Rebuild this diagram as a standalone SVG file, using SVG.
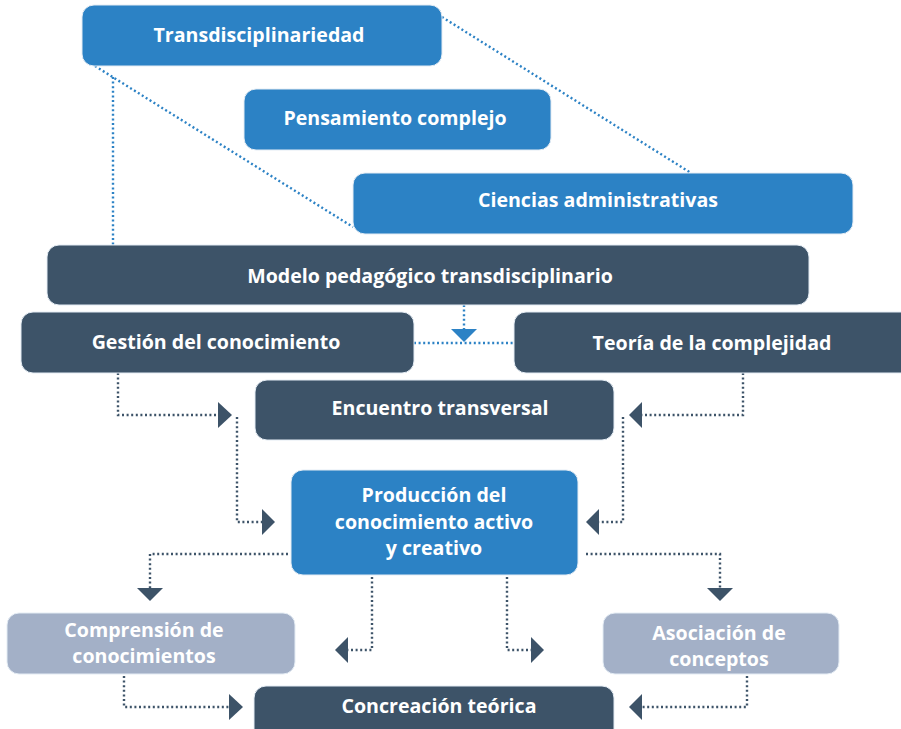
<svg xmlns="http://www.w3.org/2000/svg" width="901" height="729" viewBox="0 0 901 729">
<style>
.blue{fill:#2c82c5}
.dark{fill:#3d5368}
.light{fill:#a3b0c7}
.box{stroke:#e4ecf4;stroke-width:1}
text{font-family:"Open Sans","Noto Sans",sans-serif;font-weight:bold;font-size:19.6px;fill:#ffffff;text-anchor:middle}
.dl{fill:none;stroke:#3d5368;stroke-width:2.4;stroke-dasharray:2 2.6}
.bl{fill:none;stroke:#2c82c5;stroke-width:2.4;stroke-dasharray:2 2.6}
.ah{fill:#3d5368}
.bh{fill:#2c82c5}
</style>
<rect width="901" height="729" fill="#ffffff"/>
<g id="connectors">
<path class="bl" d="M95 66 L353 227"/>
<path class="bl" d="M113 77 V245"/>
<path class="bl" d="M442 17 L691 173"/>
<path class="bl" d="M414 343 H514"/>
<path class="bl" d="M464 305 V330"/>
<polygon class="bh" points="451,329 477,329 464,342"/>
<path class="dl" d="M118 373 V415 H218"/>
<polygon class="ah" points="218,402 232,415 218,428"/>
<path class="dl" d="M237 417 V522 H262"/>
<polygon class="ah" points="262,509 275,522 262,535"/>
<path class="dl" d="M743 373 V415 H642"/>
<polygon class="ah" points="642,402 629,415 642,428"/>
<path class="dl" d="M623 417 V522 H599"/>
<polygon class="ah" points="599,509 586,522 599,535"/>
<path class="dl" d="M288 554 H150 V588"/>
<polygon class="ah" points="137,588 163,588 150,601"/>
<path class="dl" d="M586 554 H720 V588"/>
<polygon class="ah" points="707,588 733,588 720,601"/>
<path class="dl" d="M372 577 V650 H348"/>
<polygon class="ah" points="348,637 335,650 348,663"/>
<path class="dl" d="M507 577 V650 H531"/>
<polygon class="ah" points="531,637 544,650 531,663"/>
<path class="dl" d="M124 676 V707 H229"/>
<polygon class="ah" points="229,694 243,707 229,720"/>
<path class="dl" d="M747 676 V707 H642"/>
<polygon class="ah" points="642,694 629,707 642,720"/>
</g>
<g id="n-transdisciplinariedad">
<rect class="blue box" x="82" y="5" width="360" height="61" rx="12"/>
<text x="259" y="42">Transdisciplinariedad</text>
</g>
<g id="n-pensamiento">
<rect class="blue box" x="244" y="89" width="307" height="61" rx="12"/>
<text x="395" y="125">Pensamiento complejo</text>
</g>
<g id="n-ciencias">
<rect class="blue box" x="353" y="173" width="500" height="61" rx="12"/>
<text x="598" y="207">Ciencias administrativas</text>
</g>
<g id="n-modelo">
<rect class="dark box" x="47" y="245" width="762" height="60" rx="12"/>
<text x="430" y="283">Modelo pedagógico transdisciplinario</text>
</g>
<g id="n-gestion">
<rect class="dark box" x="21" y="312" width="393" height="61" rx="12"/>
<text x="216" y="349">Gestión del conocimiento</text>
</g>
<g id="n-teoria">
<rect class="dark box" x="514" y="312" width="400" height="61" rx="12"/>
<text x="712" y="350">Teoría de la complejidad</text>
</g>
<g id="n-encuentro">
<rect class="dark box" x="255" y="380" width="359" height="60" rx="12"/>
<text x="440" y="415">Encuentro transversal</text>
</g>
<g id="n-produccion">
<rect class="blue box" x="291" y="470" width="287" height="105" rx="12"/>
<text x="434" y="502">Producción del</text>
<text x="434" y="529">conocimiento activo</text>
<text x="434" y="555">y creativo</text>
</g>
<g id="n-comprension">
<rect class="light box" x="7" y="613" width="288" height="61" rx="12"/>
<text x="144" y="637">Comprensión de</text>
<text x="144" y="663">conocimientos</text>
</g>
<g id="n-asociacion">
<rect class="light box" x="603" y="613" width="236" height="61" rx="12"/>
<text x="719" y="640">Asociación de</text>
<text x="719" y="666">conceptos</text>
</g>
<g id="n-concreacion">
<rect class="dark box" x="254" y="686" width="360" height="60" rx="12"/>
<text x="439" y="713">Concreación teórica</text>
</g>
</svg>
